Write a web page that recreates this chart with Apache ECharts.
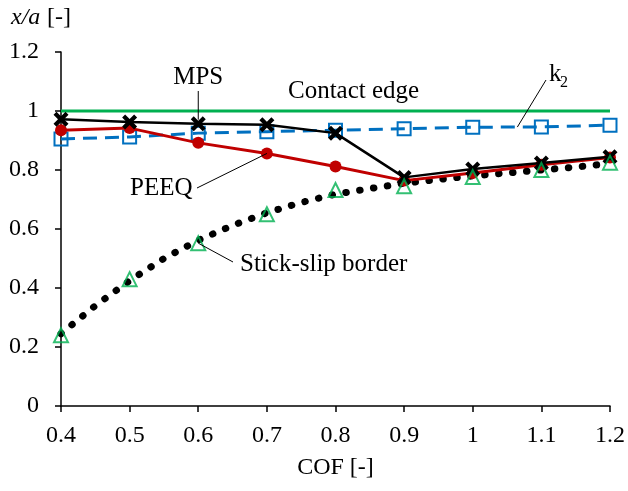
<!DOCTYPE html>
<html>
<head>
<meta charset="utf-8">
<script src="https://cdn.jsdelivr.net/npm/echarts@6/dist/echarts.min.js"></script>
<style>
  html, body { margin: 0; padding: 0; background: #fff; }
  #chart { width: 628px; height: 491px; }
</style>
</head>
<body>
<div id="chart"></div>
<script>
// Coefficient of friction values at which the models were evaluated
const cof = [0.4, 0.5, 0.6, 0.7, 0.8, 0.9, 1.0, 1.1, 1.2];
// Normalised positions x/a for each criterion
const contactEdge = [1, 1, 1, 1, 1, 1, 1, 1, 1];
const k2 = [0.905, 0.912, 0.925, 0.93, 0.935, 0.94, 0.945, 0.946, 0.952];
const mps = [0.972, 0.963, 0.957, 0.953, 0.925, 0.775, 0.803, 0.824, 0.845];
const peeq = [0.935, 0.942, 0.892, 0.856, 0.812, 0.764, 0.79, 0.818, 0.842];
const stickSlip = [0.24, 0.43, 0.552, 0.65, 0.732, 0.745, 0.776, 0.80, 0.825];
// Analytical stick-slip border, sampled more finely
const borderCof = [0.4, 0.45, 0.5, 0.55, 0.6, 0.65, 0.7, 0.75, 0.8, 0.85, 0.9, 0.95, 1.0, 1.05, 1.1, 1.15, 1.2];
const borderPos = [0.245, 0.34, 0.425, 0.5, 0.562, 0.612, 0.655, 0.69, 0.718, 0.737, 0.755, 0.768, 0.78, 0.79, 0.80, 0.81, 0.822];
// Axis tick settings
const xTicks = { min: 0.4, max: 1.2, step: 0.1 };
const yTicks = { min: 0, max: 1.2, step: 0.2 };

const GREEN = '#00b050', BLUE = '#0070c0', RED = '#c00000', BLACK = '#000000';
const FAMILY = '"Liberation Serif", "DejaVu Serif", serif';
const pair = (xs, ys) => xs.map((x, i) => [x, ys[i]]);
const fmt = v => String(+v.toFixed(1));
const CROSS = 'path://M2,0 L5,3 L8,0 L10,2 L7,5 L10,8 L8,10 L5,7 L2,10 L0,8 L3,5 L0,2 Z';

const chart = echarts.init(document.getElementById('chart'));
const axisCommon = {
  axisLine: { show: true, lineStyle: { color: BLACK, width: 1.5 } },
  axisTick: { show: true, length: 6, lineStyle: { color: BLACK, width: 1.5 } },
  splitLine: { show: false },
  axisLabel: { color: BLACK, fontFamily: FAMILY, fontSize: 24 }
};

chart.setOption({
  animation: false,
  backgroundColor: '#fff',
  grid: { left: 61, right: 15, top: 52, bottom: 85 },
  xAxis: Object.assign({}, axisCommon, {
    type: 'value', min: xTicks.min, max: xTicks.max, interval: xTicks.step,
    name: 'COF [-]', nameLocation: 'middle', nameGap: 50,
    nameTextStyle: { color: BLACK, fontFamily: FAMILY, fontSize: 24 },
    axisLabel: Object.assign({}, axisCommon.axisLabel, { margin: 18, formatter: fmt })
  }),
  yAxis: Object.assign({}, axisCommon, {
    type: 'value', min: yTicks.min, max: yTicks.max, interval: yTicks.step,
    axisLabel: Object.assign({}, axisCommon.axisLabel, { margin: 22, formatter: fmt })
  }),
  series: [
    {
      name: 'Contact edge', type: 'line', data: pair(cof, contactEdge),
      showSymbol: false, lineStyle: { color: GREEN, width: 3 }, z: 2
    },
    {
      name: 'k2', type: 'line', data: pair(cof, k2),
      symbol: 'rect', symbolSize: 13,
      itemStyle: { color: 'transparent', borderColor: BLUE, borderWidth: 2 },
      lineStyle: { color: BLUE, width: 3, type: [14, 8] }, z: 3
    },
    {
      name: 'Stick-slip border curve', type: 'line', data: pair(borderCof, borderPos),
      showSymbol: false,
      lineStyle: { color: BLACK, width: 7, type: [0.5, 13.5], cap: 'round' }, z: 4
    },
    {
      name: 'PEEQ', type: 'line', data: pair(cof, peeq),
      symbol: 'circle', symbolSize: 12,
      itemStyle: { color: RED },
      lineStyle: { color: RED, width: 3 }, z: 5
    },
    {
      name: 'MPS', type: 'line', data: pair(cof, mps),
      symbol: CROSS, symbolSize: 15,
      itemStyle: { color: BLACK },
      lineStyle: { color: BLACK, width: 2.5 }, z: 6
    },
    {
      name: 'Stick-slip border', type: 'scatter', data: pair(cof, stickSlip),
      symbol: 'triangle', symbolSize: 14,
      itemStyle: { color: 'transparent', borderColor: GREEN, borderWidth: 2 }, z: 7
    }
  ]
});

// Annotation labels with leader lines to the marks they describe
const px = (x, y) => chart.convertToPixel({ gridIndex: 0 }, [x, y]);
const txt = (text, x, y, opts) => ({
  type: 'text', x: x, y: y, z: 20,
  style: Object.assign({ text: text, fill: BLACK, fontFamily: FAMILY, fontSize: 25, verticalAlign: 'middle' }, opts || {})
});
const leader = (a, b) => ({
  type: 'line', z: 20,
  shape: { x1: a[0], y1: a[1], x2: b[0], y2: b[1] },
  style: { stroke: BLACK, lineWidth: 1 }
});

const mpsPt = px(cof[2], mps[2]);
const k2Pt = px(1.065, (k2[6] + k2[7]) / 2);
const peeqPt = px(cof[3], peeq[3]);
const slipPt = px(cof[2], stickSlip[2]);

chart.setOption({
  graphic: [
    // y-axis title: italic x/a followed by upright [-]
    txt('x/a', 11, 18, { fontSize: 24, fontStyle: 'italic' }),
    txt('[-]', 47, 18, { fontSize: 24 }),
    txt('MPS', mpsPt[0], 77, { align: 'center' }),
    leader([mpsPt[0], 91], [mpsPt[0], mpsPt[1] - 4]),
    txt('Contact edge', 288, 91),
    txt('k', 549, 74),
    txt('2', 560, 83, { fontSize: 16 }),
    leader([546, 80], k2Pt),
    txt('PEEQ', 130, 188),
    leader([197, 188], peeqPt),
    txt('Stick-slip border', 240, 264),
    leader([233, 262], slipPt)
  ]
});
</script>
</body>
</html>
